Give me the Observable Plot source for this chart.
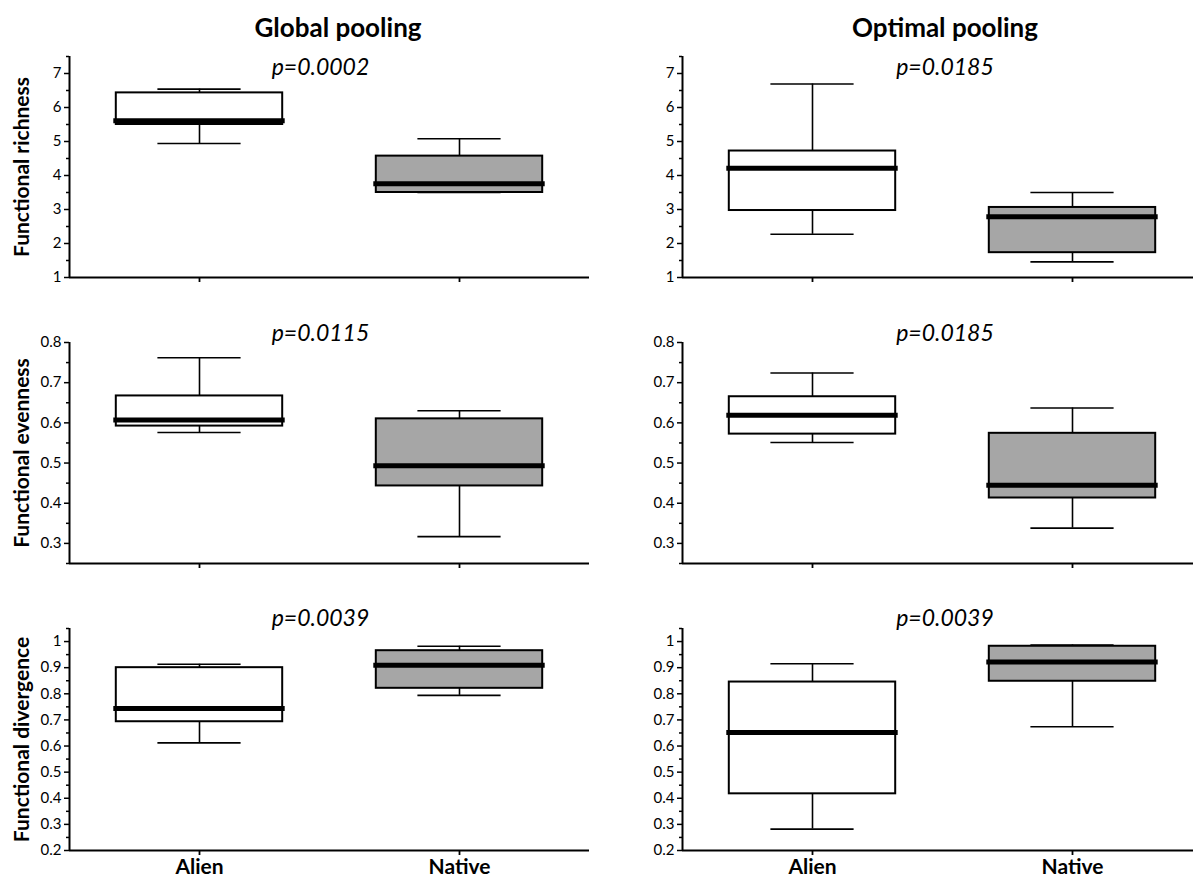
<!DOCTYPE html>
<html><head><meta charset="utf-8">
<script src="https://cdn.jsdelivr.net/npm/d3@7"></script>
<script src="https://cdn.jsdelivr.net/npm/@observablehq/plot@0.6"></script>
<style>
body{margin:0;background:#fff;overflow:hidden;font-family:Lato,sans-serif}
#root{position:relative;width:1193px;height:878px;overflow:hidden;background:#fff}
.title{position:absolute;font-weight:700;font-size:26px;transform:translate(-50%,-50%);white-space:nowrap;color:#000}
.panel{position:absolute}
</style></head><body><div id="root"></div>
<script>
const groups = ["Alien", "Native"];
const groupPos = [1, 2];
const poolings = ["Global pooling", "Optimal pooling"];
const metrics = ["Functional richness", "Functional evenness", "Functional divergence"];
const pValues = [["p=0.0002", "p=0.0185"], ["p=0.0115", "p=0.0185"], ["p=0.0039", "p=0.0039"]];

// five-number summaries per group: [min, q1, median, q3, max]
const richnessGlobal   = [[4.94, 5.50, 5.61, 6.43, 6.54], [3.50, 3.50, 3.76, 4.57, 5.08]];
const richnessOptimal  = [[2.27, 2.97, 4.21, 4.72, 6.69], [1.46, 1.73, 2.79, 3.06, 3.50]];
const evennessGlobal   = [[0.576, 0.592, 0.607, 0.667, 0.762], [0.317, 0.443, 0.493, 0.610, 0.630]];
const evennessOptimal  = [[0.551, 0.572, 0.619, 0.665, 0.724], [0.338, 0.413, 0.445, 0.574, 0.637]];
const divergenceGlobal = [[0.612, 0.693, 0.744, 0.900, 0.913], [0.794, 0.821, 0.909, 0.965, 0.982]];
const divergenceOptimal= [[0.282, 0.417, 0.652, 0.845, 0.915], [0.674, 0.848, 0.922, 0.982, 0.987]];

const richnessDomain = [1, 7.5];
const evennessDomain = [0.25, 0.8];
const divergenceDomain = [0.2, 1.05];
const richnessTicks = [1, 2, 3, 4, 5, 6, 7];
const richnessMinor = [1.5, 2.5, 3.5, 4.5, 5.5, 6.5, 7.5];
const evennessTicks = [0.3, 0.4, 0.5, 0.6, 0.7, 0.8];
const evennessMinor = [0.25, 0.35, 0.45, 0.55, 0.65, 0.75];
const divergenceTicks = [0.2, 0.3, 0.4, 0.5, 0.6, 0.7, 0.8, 0.9, 1];
const divergenceMinor = [0.25, 0.35, 0.45, 0.55, 0.65, 0.75, 0.85, 0.95, 1.05];

const summaries = [[richnessGlobal, richnessOptimal], [evennessGlobal, evennessOptimal], [divergenceGlobal, divergenceOptimal]];
const domains = [richnessDomain, evennessDomain, divergenceDomain];
const majorTicks = [richnessTicks, evennessTicks, divergenceTicks];
const minorTicks = [richnessMinor, evennessMinor, divergenceMinor];
const groupFill = ["white", "#a6a6a6"];

const root = document.getElementById("root");

// layout (style only)
const colLeft = [0, 600], colWidth = [600, 593], colMarginLeft = [69, 82], colMarginRight = [11, 0];
const rowTop = [40, 320, 590], rowHeight = [260, 260, 288];
const rowMarginTop = [16, 22, 38], rowMarginBottom = [23, 17, 28];
const pDy = [11, -9, -10], pDx = [-9, 7];
const span = 520;
const boxHalf = 0.32, capHalf = 0.16;   // fractions of category spacing
const xDomain = [0.5, 2.5];

poolings.forEach((t, c) => {
  const d = document.createElement("div");
  d.className = "title";
  d.textContent = t;
  d.style.left = [338, 945][c] + "px";
  d.style.top = "27px";
  root.appendChild(d);
});

metrics.forEach((metric, r) => {
  [0, 1].forEach(c => {
    const data = groups.map((g, i) => {
      const s = summaries[r][c][i];
      return {group: g, pos: groupPos[i], min: s[0], q1: s[1], med: s[2], q3: s[3], max: s[4]};
    });
    const marks = [
      Plot.ruleX(data, {x: "pos", y1: "min", y2: "q1", strokeWidth: 1.6}),
      Plot.ruleX(data, {x: "pos", y1: "q3", y2: "max", strokeWidth: 1.6}),
      Plot.ruleY(data, {y: "min", x1: d => d.pos - capHalf, x2: d => d.pos + capHalf, strokeWidth: 1.6}),
      Plot.ruleY(data, {y: "max", x1: d => d.pos - capHalf, x2: d => d.pos + capHalf, strokeWidth: 1.6}),
      Plot.rect(data, {x1: d => d.pos - boxHalf, x2: d => d.pos + boxHalf, y1: "q1", y2: "q3", fill: "group", stroke: "black", strokeWidth: 2}),
      Plot.ruleY(data, {y: "med", x1: d => d.pos - boxHalf, x2: d => d.pos + boxHalf, strokeWidth: 5, strokeLinecap: "square"}),
      Plot.axisY({ticks: minorTicks[r], tickSize: 3, tickFormat: () => "", label: null, strokeWidth: 1.5}),
      Plot.axisY({ticks: majorTicks[r], tickSize: 5, tickPadding: 3, tickFormat: d => String(d), label: null, strokeWidth: 1.5, fontSize: 15}),
      Plot.axisX({ticks: groupPos, tickSize: 5, tickPadding: 4, label: null, strokeWidth: 1.8,
        tickFormat: r === 2 ? (i => groups[i - 1]) : (() => ""), fontSize: 21, fontWeight: "bold"}),
      Plot.ruleX([xDomain[0]], {strokeWidth: 2}),
      Plot.ruleY([domains[r][0]], {strokeWidth: 2}),
      Plot.text([pValues[r][c]], {text: d => d, frameAnchor: "top", dx: pDx[c], dy: pDy[r], fontSize: 23, fontStyle: "italic", lineAnchor: "middle"})
    ];
    if (c === 0) {
      marks.push(Plot.text([metric], {text: d => d, frameAnchor: "left", textAnchor: "middle", rotate: -90, dx: -47, fontSize: 21, fontWeight: "bold", lineAnchor: "middle"}));
    }
    const chart = Plot.plot({
      width: colWidth[c],
      height: rowHeight[r],
      marginLeft: colMarginLeft[c],
      marginRight: colMarginRight[c],
      marginTop: rowMarginTop[r],
      marginBottom: rowMarginBottom[r],
      x: {domain: xDomain, range: [colMarginLeft[c], colMarginLeft[c] + span], axis: null},
      y: {domain: domains[r], axis: null},
      color: {domain: groups, range: groupFill},
      style: {fontFamily: "Lato, sans-serif", fontSize: "15px", color: "black", background: "transparent", overflow: "visible"},
      marks
    });
    const wrap = document.createElement("div");
    wrap.className = "panel";
    wrap.style.left = colLeft[c] + "px";
    wrap.style.top = rowTop[r] + "px";
    wrap.appendChild(chart);
    root.appendChild(wrap);
  });
});
</script></body></html>
